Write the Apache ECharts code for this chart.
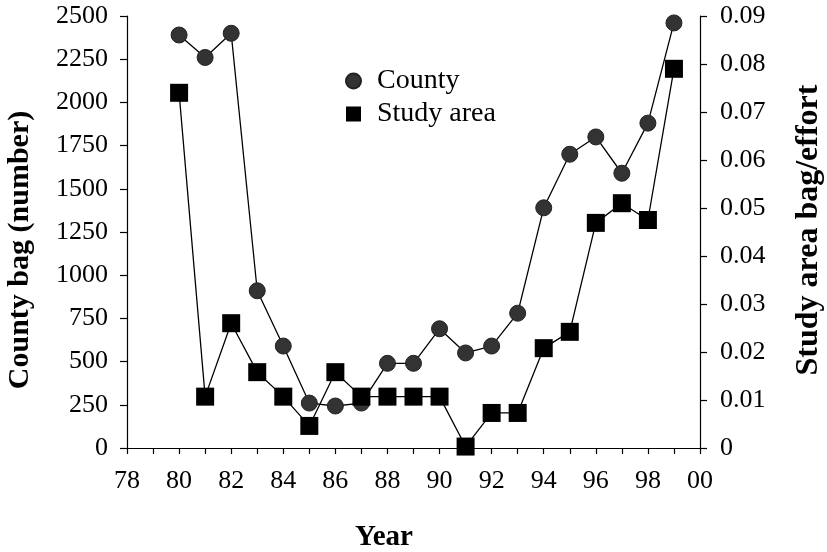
<!DOCTYPE html>
<html>
<head>
<meta charset="utf-8">
<script src="https://cdn.jsdelivr.net/npm/echarts@6/dist/echarts.min.js"></script>
<style>html,body{margin:0;padding:0;background:#fff}#c{width:827px;height:552px}</style>
</head>
<body>
<div id="c"></div>
<script>
const years = [80,81,82,83,84,85,86,87,88,89,90,91,92,93,94,95,96,97,98,99];
const countyBag = [2390,2260,2400,910,590,260,243,260,490,490,690,550,590,780,1390,1700,1800,1590,1880,2460];
const studyArea = [0.074,0.0107,0.026,0.0158,0.0107,0.0046,0.0158,0.0107,0.0107,0.0107,0.0107,0.0003,0.0073,0.0073,0.0208,0.0242,0.0469,0.051,0.0475,0.079];
const leftTicks = [0,250,500,750,1000,1250,1500,1750,2000,2250,2500];
const rightTicks = [0,0.01,0.02,0.03,0.04,0.05,0.06,0.07,0.08,0.09];

const FONT = "'Liberation Serif', 'Times New Roman', serif";
const chart = echarts.init(document.getElementById('c'), null, {renderer: 'canvas'});
const axisLine = {show: true, lineStyle: {color: '#000', width: 1.2}};
chart.setOption({
  animation: false,
  backgroundColor: '#fff',
  grid: {left: 127, right: 127, top: 16, bottom: 104, containLabel: false},
  legend: {
    orient: 'vertical', left: 340, top: 62, itemGap: 5,
    itemWidth: 15, itemHeight: 15,
    textStyle: {fontFamily: FONT, fontSize: 28, color: '#000', padding: [0,0,0,11]},
    data: [
      {name: 'County', icon: 'circle', itemStyle: {color: '#333'}},
      {name: 'Study area', icon: 'rect', itemStyle: {color: '#000'}}
    ]
  },
  xAxis: {
    type: 'value', min: 78, max: 100, interval: 1,
    axisLine: axisLine,
    axisTick: {show: true, inside: false, length: 6, lineStyle: {color: '#000', width: 1.2}},
    splitLine: {show: false},
    axisLabel: {
      fontFamily: FONT, fontSize: 26, color: '#000', margin: 20,
      formatter: v => (v % 2 === 0 ? String(v % 100).padStart(2, '0') : '')
    }
  },
  yAxis: [
    {
      type: 'value', min: 0, max: 2500, interval: 250, position: 'left',
      axisLine: axisLine,
      axisTick: {show: true, length: 7, lineStyle: {color: '#000', width: 1.2}},
      splitLine: {show: false},
      axisLabel: {fontFamily: FONT, fontSize: 26, color: '#000', margin: 19,
        formatter: v => (leftTicks.includes(v) ? String(v) : '')}
    },
    {
      type: 'value', min: 0, max: 0.09, interval: 0.01, position: 'right',
      axisLine: axisLine,
      axisTick: {show: true, length: 7, lineStyle: {color: '#000', width: 1.2}},
      splitLine: {show: false},
      axisLabel: {fontFamily: FONT, fontSize: 26, color: '#000', margin: 20,
        formatter: v => { const r = rightTicks.find(t => Math.abs(t - v) < 1e-9); return r === undefined ? '' : (r === 0 ? '0' : r.toFixed(2)); }}
    }
  ],
  graphic: [
    {type: 'text', x: 384, y: 538, style: {text: 'Year', fontFamily: FONT, fontSize: 29, fontWeight: 'bold', fill: '#000', textAlign: 'center', textVerticalAlign: 'middle'}},
    {type: 'text', x: 20, y: 250, rotation: Math.PI / 2, style: {text: 'County bag (number)', fontFamily: FONT, fontSize: 30, fontWeight: 'bold', fill: '#000', textAlign: 'center', textVerticalAlign: 'middle'}},
    {type: 'text', x: 809, y: 230, rotation: Math.PI / 2, style: {text: 'Study area bag/effort', fontFamily: FONT, fontSize: 32, fontWeight: 'bold', fill: '#000', textAlign: 'center', textVerticalAlign: 'middle'}}
  ],
  series: [
    {
      name: 'County', type: 'line', yAxisIndex: 0,
      data: years.map((y, i) => [y, countyBag[i]]),
      symbol: 'circle', symbolSize: 16,
      lineStyle: {color: '#000', width: 1.3},
      itemStyle: {color: '#333', borderColor: '#222', borderWidth: 1}
    },
    {
      name: 'Study area', type: 'line', yAxisIndex: 1,
      data: years.map((y, i) => [y, studyArea[i]]),
      symbol: 'rect', symbolSize: 18,
      lineStyle: {color: '#000', width: 1.3},
      itemStyle: {color: '#000'}
    }
  ]
});
</script>
</body>
</html>
